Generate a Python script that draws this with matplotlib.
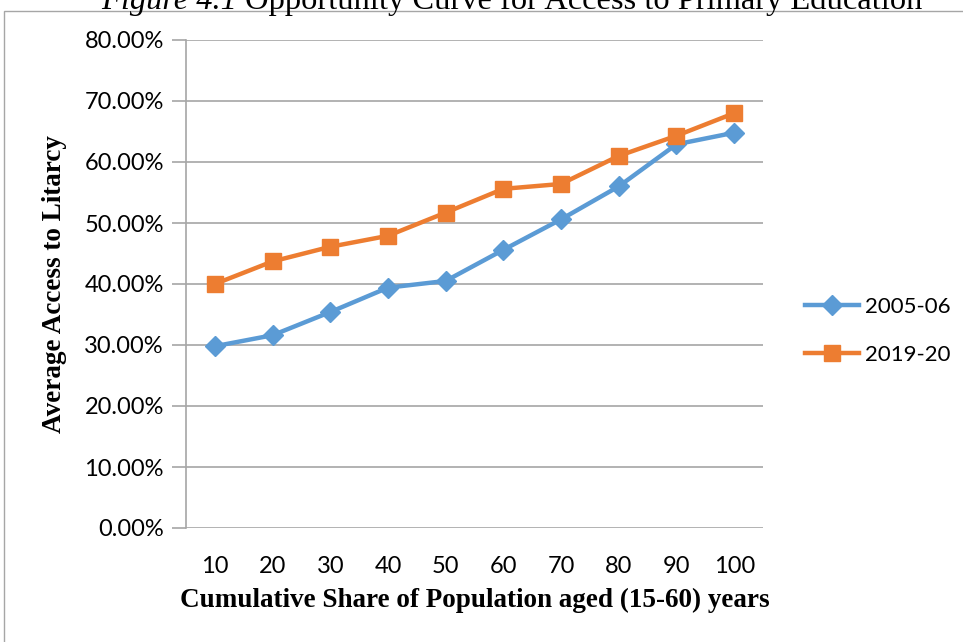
import matplotlib
matplotlib.use("Agg")
import matplotlib.pyplot as plt
from matplotlib.patches import Rectangle
from matplotlib.ticker import FuncFormatter

# Opportunity curve data: average access (%) by cumulative population share
shares = [10, 20, 30, 40, 50, 60, 70, 80, 90, 100]
access_2005 = [29.8, 31.6, 35.4, 39.4, 40.5, 45.6, 50.6, 56.0, 62.9, 64.8]
access_2019 = [40.0, 43.7, 46.1, 47.9, 51.7, 55.6, 56.4, 61.0, 64.3, 68.0]
series_names = ["2005-06", "2019-20"]
y_ticks = [0, 10, 20, 30, 40, 50, 60, 70, 80]

tick_font = "Lato"
label_font = "Liberation Serif"

fig = plt.figure(figsize=(9.63, 6.42), dpi=100)
W, H = 963, 642

# chart frame and figure caption
fig.patches.append(Rectangle((4 / W, -0.1), 1.2, 1 - 11 / H + 0.1,
                             transform=fig.transFigure, fill=False,
                             edgecolor="#a6a6a6", linewidth=1.0))
fig.text(245 / W, 1 - 9 / H, "Figure 4.1 ", ha="right", va="baseline",
         fontsize=23.4, family=label_font, style="italic")
fig.text(245 / W, 1 - 9 / H, "Opportunity Curve for Access to Primary Education",
         ha="left", va="baseline", fontsize=23.4, family=label_font)

ax = fig.add_axes([186 / W, 1 - 528 / H, (763 - 186) / W, (528 - 40) / H])
x = list(range(1, len(shares) + 1))

ax.plot(x, access_2005, color="#5b9bd5", linewidth=3.2, marker="D",
        markersize=10, label=series_names[0], solid_joinstyle="round")
ax.plot(x, access_2019, color="#ed7d31", linewidth=3.2, marker="s",
        markersize=12, label=series_names[1], solid_joinstyle="round")

ax.set_xlim(0.5, len(shares) + 0.5)
ax.set_ylim(0, 80)
ax.set_yticks(y_ticks)
ax.yaxis.set_major_formatter(FuncFormatter(lambda v, p: f"{v:.2f}%"))
ax.set_xticks(x)
ax.set_xticklabels([str(s) for s in shares])
ax.grid(axis="y", color="#a6a6a6", linewidth=1.2)
ax.set_axisbelow(True)

for side in ["top", "right", "bottom"]:
    ax.spines[side].set_visible(False)
ax.spines["left"].set_color("#a6a6a6")
ax.spines["left"].set_linewidth(1.2)
ax.tick_params(axis="y", length=10, color="#a6a6a6", width=1.2, pad=6,
               labelsize=17)
ax.tick_params(axis="x", length=0, pad=20, labelsize=17)
for lbl in ax.get_xticklabels() + ax.get_yticklabels():
    lbl.set_family(tick_font)

ax.set_xlabel("Cumulative Share of Population aged (15-60) years",
              family=label_font, fontweight="bold", fontsize=19.5, labelpad=8)
ax.set_ylabel("Average Access to Litarcy", family=label_font,
              fontweight="bold", fontsize=19.5, labelpad=12)

leg = fig.legend(loc="center left", bbox_to_anchor=(785 / W, 1 - 331 / H),
                 frameon=False, prop={"family": tick_font, "size": 16},
                 handlelength=2.45, labelspacing=1.25, handletextpad=0.25)

fig.savefig("out.png", dpi=100)
